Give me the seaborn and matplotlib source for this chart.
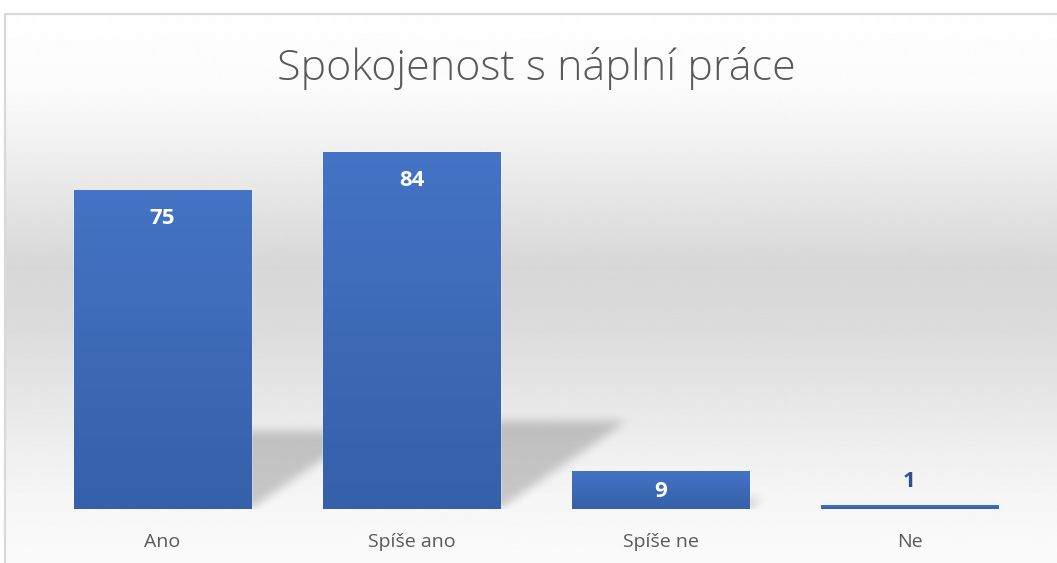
import numpy as np
import matplotlib.pyplot as plt
import seaborn as sns
from matplotlib.colors import LinearSegmentedColormap
from matplotlib.lines import Line2D

# data
categories = ["Ano", "Spíše ano", "Spíše ne", "Ne"]
counts = [75, 84, 9, 1]
title = "Spokojenost s náplní práce"

sns.set_theme(style="white")
plt.rcParams['font.family'] = ['Open Sans', 'DejaVu Sans']

W, H = 1057, 563
fig = plt.figure(figsize=(W / 100, H / 100), dpi=100)
fig.patch.set_facecolor("white")

# chart area background: white -> grey -> white vertical gradient
bg = fig.add_axes([0, 0, 1, 1], zorder=0)
bg.set_axis_off()
bg.set_xlim(0, W)
bg.set_ylim(H, 0)
yy = np.arange(13, H + 1)
stops_y = [13, 90, 133, 200, 267, 333, 433, 500, 563]
stops_v = [254, 251, 243, 229, 215, 220, 236, 246, 251]
grey = np.interp(yy, stops_y, stops_v) / 255
bg.imshow(np.repeat(grey[:, None], 2, axis=1), cmap="gray", vmin=0, vmax=1,
          extent=(4, W + 2, H, 13), aspect="auto", interpolation="bilinear")
bg.add_line(Line2D([4.5, 4.5, W + 5], [H + 5, 13.5, 13.5], color="#d9d9d9", lw=1.6))

# plot axes
ax = fig.add_axes([38 / W, 54 / H, 996 / W, 383 / H], zorder=2)
ax.patch.set_alpha(0)
sns.barplot(x=categories, y=counts, color="#4472c4", saturation=1, width=0.714,
            ax=ax, zorder=3)
ax.set_xlim(-0.5, 3.5)
ax.set_ylim(0, 90)

# perspective shadow behind the bars (blurred parallelograms)
nx, ny = 996, 383
xs = np.linspace(-0.5, 3.5, nx)
ys = np.linspace(0, 90, ny)
X, Y = np.meshgrid(xs, ys)
k = 0.245            # shadow height relative to bar
s = 0.00602 / k      # horizontal lean per unit of shadow height
mask = np.zeros_like(X)
for p in ax.patches:
    x0, w, h = p.get_x(), p.get_width(), p.get_height()
    inside = (Y <= k * h) & (X >= x0 + s * Y) & (X <= x0 + w + s * Y)
    mask[inside] = 1.0
kern = np.ones(11) / 11
for _ in range(2):
    mask = np.apply_along_axis(lambda r: np.convolve(r, kern, mode="same"), 1, mask)
    mask = np.apply_along_axis(lambda c: np.convolve(c, kern, mode="same"), 0, mask)
shadow = np.zeros((ny, nx, 4))
shadow[..., 3] = 0.19 * mask
ax.imshow(shadow, extent=(-0.5, 3.5, 0, 90), origin="lower", aspect="auto",
          zorder=1, interpolation="bilinear")

# vertical gradient on each bar
bar_cmap = LinearSegmentedColormap.from_list("bar", ["#3560aa", "#4573c5"])
grad = np.linspace(0, 1, 256)[:, None]
for p in ax.patches:
    x0, w, h = p.get_x(), p.get_width(), p.get_height()
    im = ax.imshow(grad, cmap=bar_cmap, extent=(x0, x0 + w, 0, h), origin="lower",
                   aspect="auto", zorder=4, interpolation="bilinear")
    im.set_clip_path(p)
ax.set_xlim(-0.5, 3.5)
ax.set_ylim(0, 90)

# value labels
px_per_unit = ax.transData.transform((0, 1))[1] - ax.transData.transform((0, 0))[1]
for i, v in enumerate(counts):
    bar_px = v * px_per_unit
    if bar_px > 24:
        off = -min(29, bar_px / 2 + 2) * 0.72
        color = "white"
    else:
        off = 23 * 0.72
        color = "#2f528f"
    ax.annotate(str(v), (i, v), xytext=(0, off), textcoords="offset points",
                ha="center", va="center", fontsize=16, fontweight="bold",
                color=color, zorder=6)

ax.set_xticks(range(len(categories)))
ax.set_xticklabels(categories, fontsize=14, color="#595959")
ax.tick_params(axis="x", length=0, pad=17)
ax.set_yticks([])
ax.set_xlabel("")
ax.set_ylabel("")
sns.despine(ax=ax, left=True, bottom=True)

fig.text(536 / W, 1 - 68 / H, title, ha="center", va="center", fontsize=31,
         fontweight="light", color="#595959")

fig.savefig("out.png", dpi=100)
